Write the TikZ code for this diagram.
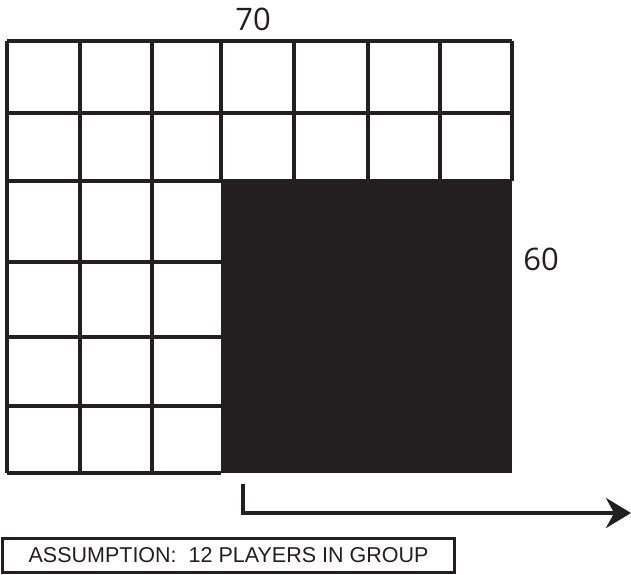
\documentclass[tikz,border=0pt]{standalone}
\usepackage{fontspec}
\setmainfont{Liberation Sans}
\newfontfamily\dimfont{Open Sans}
\usetikzlibrary{arrows.meta}
\definecolor{gridink}{HTML}{231F20}

\begin{document}
\begin{tikzpicture}[
  x=1pt,
  y=-1pt,
  every node/.style={gridink},
  gridline/.style={gridink, line width=3.4pt},
  blockfill/.style={fill=gridink},
  dimlabel/.style={font=\dimfont\fontsize{31}{36}\selectfont},
  pointer/.style={gridink, line width=3.4pt, -{Stealth[length=25pt, width=30pt]}},
  notebox/.style={draw=gridink, line width=3pt, minimum width=452pt,
    minimum height=34pt, inner sep=0pt, font=\fontsize{21.5}{25}\selectfont}
]
  % ---- bounding box of the reference
  \useasboundingbox (0,0) rectangle (631,574);

  % ---- filled block, lower right ----------------------------------------
  \fill[blockfill] (221,181) rectangle (512,473);

  % ---- top two rows, full width -----------------------------------------
  \foreach \y in {41, 113, 181}
    \draw[gridline] (7,\y) -- (512,\y);
  \foreach \x in {7, 80, 152, 221, 294, 368, 440, 512}
    \draw[gridline] (\x,41) -- (\x,181);

  % ---- lower four rows, left three columns ------------------------------
  \foreach \y in {262, 337, 406, 473}
    \draw[gridline] (7,\y) -- (221,\y);
  \foreach \x in {7, 80, 152}
    \draw[gridline] (\x,181) -- (\x,473);

  % ---- dimensions --------------------------------------------------------
  \node[dimlabel] (width) at (253,19) {70};
  \node[dimlabel] (height) at (541,259) {60};

  % ---- arrow -------------------------------------------------------------
  \coordinate (start) at (243,484);
  \coordinate (corner) at (243,513);
  \coordinate (tip) at (631,513);
  \draw[pointer] (start) -- (corner) -- (tip);

  % ---- note --------------------------------------------------------------
  \node[notebox] (note) at (228.5,555) {ASSUMPTION:\ \ 12 PLAYERS IN GROUP};
\end{tikzpicture}
\end{document}
